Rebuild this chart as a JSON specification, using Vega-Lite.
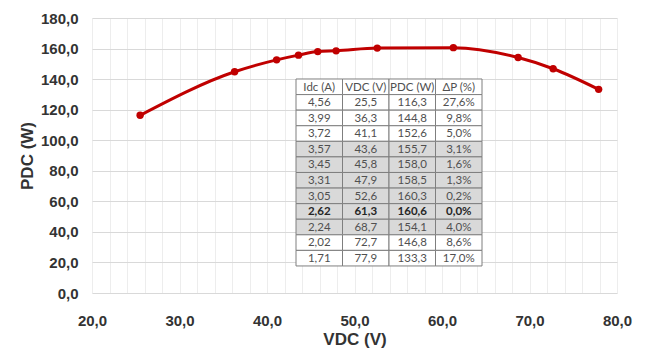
{
  "$schema": "https://vega.github.io/schema/vega-lite/v6.json",
  "width": 525,
  "height": 275,
  "autosize": {"type": "none"},
  "padding": {"left": 92, "top": 18, "right": 29, "bottom": 57},
  "background": "#ffffff",
  "config": {"view": {"stroke": null}, "font": "Liberation Sans"},
  "datasets": {
    "curve": [
      {"V": 25.5, "P": 116.3},
      {"V": 36.3, "P": 144.8},
      {"V": 41.1, "P": 152.6},
      {"V": 43.6, "P": 155.7},
      {"V": 45.8, "P": 158.0},
      {"V": 47.9, "P": 158.5},
      {"V": 52.6, "P": 160.3},
      {"V": 61.3, "P": 160.6},
      {"V": 68.7, "P": 154.1},
      {"V": 72.7, "P": 146.8},
      {"V": 77.9, "P": 133.3}
    ],
    "table": [
      {"row": 0, "col": 0, "label": "Idc (A)", "shade": false, "bold": false},
      {"row": 0, "col": 1, "label": "VDC (V)", "shade": false, "bold": false},
      {"row": 0, "col": 2, "label": "PDC (W)", "shade": false, "bold": false},
      {"row": 0, "col": 3, "label": "ΔP (%)", "shade": false, "bold": false},
      {"row": 1, "col": 0, "label": "4,56", "shade": false, "bold": false},
      {"row": 1, "col": 1, "label": "25,5", "shade": false, "bold": false},
      {"row": 1, "col": 2, "label": "116,3", "shade": false, "bold": false},
      {"row": 1, "col": 3, "label": "27,6%", "shade": false, "bold": false},
      {"row": 2, "col": 0, "label": "3,99", "shade": false, "bold": false},
      {"row": 2, "col": 1, "label": "36,3", "shade": false, "bold": false},
      {"row": 2, "col": 2, "label": "144,8", "shade": false, "bold": false},
      {"row": 2, "col": 3, "label": "9,8%", "shade": false, "bold": false},
      {"row": 3, "col": 0, "label": "3,72", "shade": false, "bold": false},
      {"row": 3, "col": 1, "label": "41,1", "shade": false, "bold": false},
      {"row": 3, "col": 2, "label": "152,6", "shade": false, "bold": false},
      {"row": 3, "col": 3, "label": "5,0%", "shade": false, "bold": false},
      {"row": 4, "col": 0, "label": "3,57", "shade": true, "bold": false},
      {"row": 4, "col": 1, "label": "43,6", "shade": true, "bold": false},
      {"row": 4, "col": 2, "label": "155,7", "shade": true, "bold": false},
      {"row": 4, "col": 3, "label": "3,1%", "shade": true, "bold": false},
      {"row": 5, "col": 0, "label": "3,45", "shade": true, "bold": false},
      {"row": 5, "col": 1, "label": "45,8", "shade": true, "bold": false},
      {"row": 5, "col": 2, "label": "158,0", "shade": true, "bold": false},
      {"row": 5, "col": 3, "label": "1,6%", "shade": true, "bold": false},
      {"row": 6, "col": 0, "label": "3,31", "shade": true, "bold": false},
      {"row": 6, "col": 1, "label": "47,9", "shade": true, "bold": false},
      {"row": 6, "col": 2, "label": "158,5", "shade": true, "bold": false},
      {"row": 6, "col": 3, "label": "1,3%", "shade": true, "bold": false},
      {"row": 7, "col": 0, "label": "3,05", "shade": true, "bold": false},
      {"row": 7, "col": 1, "label": "52,6", "shade": true, "bold": false},
      {"row": 7, "col": 2, "label": "160,3", "shade": true, "bold": false},
      {"row": 7, "col": 3, "label": "0,2%", "shade": true, "bold": false},
      {"row": 8, "col": 0, "label": "2,62", "shade": true, "bold": true},
      {"row": 8, "col": 1, "label": "61,3", "shade": true, "bold": true},
      {"row": 8, "col": 2, "label": "160,6", "shade": true, "bold": true},
      {"row": 8, "col": 3, "label": "0,0%", "shade": true, "bold": true},
      {"row": 9, "col": 0, "label": "2,24", "shade": true, "bold": false},
      {"row": 9, "col": 1, "label": "68,7", "shade": true, "bold": false},
      {"row": 9, "col": 2, "label": "154,1", "shade": true, "bold": false},
      {"row": 9, "col": 3, "label": "4,0%", "shade": true, "bold": false},
      {"row": 10, "col": 0, "label": "2,02", "shade": false, "bold": false},
      {"row": 10, "col": 1, "label": "72,7", "shade": false, "bold": false},
      {"row": 10, "col": 2, "label": "146,8", "shade": false, "bold": false},
      {"row": 10, "col": 3, "label": "8,6%", "shade": false, "bold": false},
      {"row": 11, "col": 0, "label": "1,71", "shade": false, "bold": false},
      {"row": 11, "col": 1, "label": "77,9", "shade": false, "bold": false},
      {"row": 11, "col": 2, "label": "133,3", "shade": false, "bold": false},
      {"row": 11, "col": 3, "label": "17,0%", "shade": false, "bold": false}
    ]
  },
  "layer": [
    {
      "data": {"name": "curve"},
      "encoding": {
        "x": {
          "field": "V",
          "type": "quantitative",
          "scale": {"domain": [20, 80], "nice": false, "zero": false},
          "axis": {
            "values": [20, 22, 24, 26, 28, 30, 32, 34, 36, 38, 40, 42, 44, 46, 48, 50, 52, 54, 56, 58, 60, 62, 64, 66, 68, 70, 72, 74, 76, 78, 80],
            "labelExpr": "datum.value % 10 == 0 ? replace(format(datum.value, '.1f'), '.', ',') : ''",
            "labelOverlap": false,
            "labelFlush": false,
            "ticks": false,
            "domain": false,
            "grid": true,
            "gridColor": "#ededed",
            "gridWidth": 1,
            "labelFont": "Liberation Sans",
            "labelFontWeight": "bold",
            "labelFontSize": 15,
            "labelColor": "#333333",
            "labelPadding": 20,
            "title": "VDC (V)",
            "titleFont": "Liberation Sans",
            "titleFontWeight": "bold",
            "titleFontSize": 17,
            "titleColor": "#333333",
            "titlePadding": 3
          }
        },
        "y": {
          "field": "P",
          "type": "quantitative",
          "scale": {"domain": [0, 180], "nice": false},
          "axis": {
            "values": [0, 20, 40, 60, 80, 100, 120, 140, 160, 180],
            "labelExpr": "replace(format(datum.value, '.1f'), '.', ',')",
            "labelOverlap": false,
            "labelFlush": false,
            "ticks": false,
            "domain": false,
            "grid": true,
            "gridColor": "#d9d9d9",
            "gridWidth": 1,
            "labelFont": "Liberation Sans",
            "labelFontWeight": "bold",
            "labelFontSize": 15,
            "labelColor": "#333333",
            "labelPadding": 14,
            "title": "PDC (W)",
            "titleFont": "Liberation Sans",
            "titleFontWeight": "bold",
            "titleFontSize": 17,
            "titleColor": "#333333",
            "titlePadding": 4
          }
        }
      },
      "layer": [
        {"mark": {"type": "line", "color": "#c00000", "strokeWidth": 3, "interpolate": "monotone"}},
        {"mark": {"type": "point", "filled": true, "color": "#c00000", "size": 55, "opacity": 1}}
      ]
    },
    {
      "data": {"name": "table"},
      "transform": [
        {"calculate": "datum.col + 1", "as": "col1"},
        {"calculate": "datum.row + 1", "as": "row1"},
        {"calculate": "datum.col + 0.5", "as": "cx"},
        {"calculate": "datum.row + 0.55", "as": "cy"}
      ],
      "layer": [
        {
          "mark": {"type": "rect", "stroke": "#7f7f7f", "strokeWidth": 1},
          "encoding": {
            "x": {"field": "col", "type": "quantitative", "scale": {"domain": [-4.387, 6.903], "nice": false, "zero": false}, "axis": null},
            "x2": {"field": "col1"},
            "y": {"field": "row", "type": "quantitative", "scale": {"domain": [-3.915, 13.735], "nice": false, "zero": false, "reverse": true}, "axis": null},
            "y2": {"field": "row1"},
            "fill": {"condition": {"test": "datum.shade", "value": "#d9d9d9"}, "value": "#ffffff"}
          }
        },
        {
          "transform": [{"filter": "!datum.bold"}],
          "mark": {"type": "text", "font": "Lato", "fontSize": 11.5, "color": "#505050", "align": "center", "baseline": "middle"},
          "encoding": {
            "x": {"field": "cx", "type": "quantitative", "scale": {"domain": [-4.387, 6.903], "nice": false, "zero": false}, "axis": null},
            "y": {"field": "cy", "type": "quantitative", "scale": {"domain": [-3.915, 13.735], "nice": false, "zero": false, "reverse": true}, "axis": null},
            "text": {"field": "label"}
          }
        },
        {
          "transform": [{"filter": "datum.bold"}],
          "mark": {"type": "text", "font": "Lato", "fontSize": 11.5, "fontWeight": "bold", "color": "#262626", "align": "center", "baseline": "middle"},
          "encoding": {
            "x": {"field": "cx", "type": "quantitative", "scale": {"domain": [-4.387, 6.903], "nice": false, "zero": false}, "axis": null},
            "y": {"field": "cy", "type": "quantitative", "scale": {"domain": [-3.915, 13.735], "nice": false, "zero": false, "reverse": true}, "axis": null},
            "text": {"field": "label"}
          }
        }
      ]
    }
  ],
  "resolve": {"scale": {"x": "independent", "y": "independent"}}
}
